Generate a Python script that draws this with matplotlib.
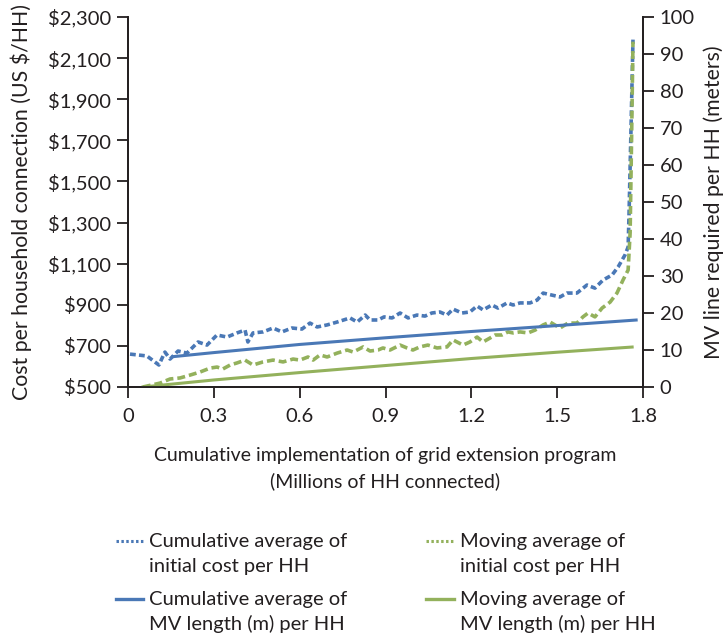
import matplotlib
matplotlib.use("Agg")
import matplotlib.pyplot as plt
from matplotlib.lines import Line2D
from matplotlib.ticker import FuncFormatter

plt.rcParams['font.family'] = ['Lato', 'DejaVu Sans']

# Cumulative average of initial cost per HH (US $/HH), left axis
cum_cost_x = [0.007, 0.066, 0.108, 0.129, 0.147, 0.175, 0.206, 0.245, 0.276, 0.311,
              0.346, 0.381, 0.409, 0.419, 0.437, 0.472, 0.507, 0.538, 0.573, 0.608,
              0.636, 0.661, 0.696, 0.731, 0.776, 0.801, 0.829, 0.846, 0.874, 0.895,
              0.923, 0.951, 0.979, 1.010, 1.038, 1.062, 1.090, 1.115, 1.136, 1.167,
              1.195, 1.220, 1.241, 1.272, 1.293, 1.325, 1.346, 1.370, 1.405, 1.430,
              1.451, 1.482, 1.510, 1.534, 1.569, 1.604, 1.632, 1.660, 1.692, 1.713,
              1.737, 1.748, 1.751, 1.758, 1.765]
cum_cost = [660, 651, 607, 670, 636, 675, 665, 719, 704, 753,
            743, 763, 777, 719, 763, 768, 787, 768, 787, 782,
            811, 792, 802, 816, 836, 816, 850, 826, 826, 841,
            836, 860, 836, 850, 845, 860, 865, 850, 879, 860,
            865, 894, 875, 899, 884, 909, 899, 909, 909, 923,
            957, 947, 938, 957, 957, 996, 981, 1020, 1045, 1084,
            1142, 1181, 1330, 1750, 2190]

# Moving average of initial cost per HH (US $/HH), left axis
mov_cost_x = [0.052, 0.112, 0.147, 0.182, 0.217, 0.252, 0.287, 0.311, 0.332, 0.357,
              0.381, 0.409, 0.437, 0.472, 0.507, 0.542, 0.577, 0.601, 0.629, 0.647,
              0.671, 0.696, 0.731, 0.766, 0.787, 0.822, 0.846, 0.874, 0.891, 0.916,
              0.951, 0.975, 0.996, 1.020, 1.048, 1.080, 1.115, 1.136, 1.171, 1.195,
              1.220, 1.241, 1.265, 1.283, 1.307, 1.328, 1.346, 1.370, 1.398, 1.423,
              1.451, 1.475, 1.510, 1.538, 1.569, 1.590, 1.608, 1.632, 1.657, 1.685,
              1.709, 1.730, 1.748, 1.755, 1.760, 1.765]
mov_cost = [500, 519, 539, 544, 558, 573, 592, 597, 588, 607,
            617, 631, 607, 622, 631, 622, 636, 631, 646, 631,
            656, 646, 665, 680, 670, 695, 675, 680, 690, 680,
            704, 690, 680, 695, 704, 690, 695, 729, 704, 719,
            743, 719, 738, 753, 753, 768, 763, 768, 763, 777,
            802, 816, 787, 811, 811, 841, 860, 841, 884, 913,
            957, 1020, 1069, 1250, 1700, 2180]

# MV line length per HH (meters), right axis
cum_mv_x = [0.157, 0.3, 0.6, 0.9, 1.2, 1.5, 1.776]
cum_mv = [8.2, 9.3, 11.5, 13.3, 15.0, 16.6, 18.1]
mov_mv_x = [0.052, 0.3, 0.6, 0.9, 1.2, 1.5, 1.762]
mov_mv = [0.0, 1.9, 3.9, 5.8, 7.7, 9.4, 10.8]

x_ticks = [0, 0.3, 0.6, 0.9, 1.2, 1.5, 1.8]
cost_ticks = [500, 700, 900, 1100, 1300, 1500, 1700, 1900, 2100, 2300]
mv_ticks = [0, 10, 20, 30, 40, 50, 60, 70, 80, 90, 100]

legend_labels = ["Cumulative average of\ninitial cost per HH",
                 "Moving average of\ninitial cost per HH",
                 "Cumulative average of\nMV length (m) per HH",
                 "Moving average of\nMV length (m) per HH"]

blue = "#4a78b6"
green = "#93b15c"
ink = "#231f20"

W, H = 725, 637
fig = plt.figure(figsize=(W / 100, H / 100), dpi=100)
ax = fig.add_axes([128 / W, 1 - 387 / H, 515 / W, 370 / H])
ax2 = ax.twinx()

ax.plot(cum_cost_x, cum_cost, color=blue, lw=2.6, dashes=(1.6, 0.9))
ax.plot(mov_cost_x, mov_cost, color=green, lw=2.6, dashes=(2.2, 1.1))
ax2.plot(cum_mv_x, cum_mv, color=blue, lw=2.2)
ax2.plot(mov_mv_x, mov_mv, color=green, lw=2.2)

ax.set_xlim(0, 1.8)
ax.set_ylim(500, 2300)
ax2.set_ylim(0, 100)
ax.set_xticks(x_ticks)
ax.set_xticklabels(["0" if t == 0 else f"{t:.1f}" for t in x_ticks])
ax.set_yticks(cost_ticks)
ax.yaxis.set_major_formatter(FuncFormatter(lambda v, p: f"${v:,.0f}"))
ax2.set_yticks(mv_ticks)

for a in (ax, ax2):
    a.spines['top'].set_visible(False)
    for s in a.spines.values():
        s.set_color(ink)
        s.set_linewidth(1.3)
    a.tick_params(colors=ink, labelsize=14.5, length=8, width=1.3, direction='out')
ax.tick_params(axis='x', pad=7)
ax.tick_params(axis='y', pad=4)
ax2.tick_params(axis='y', pad=4)

ax.set_ylabel("Cost per household connection (US $/HH)", fontsize=15.3, color=ink)
ax.yaxis.set_label_coords(-0.186, 0.5)
ax2.set_ylabel("MV line required per HH (meters)", fontsize=15.3, color=ink)
ax2.yaxis.set_label_coords(1.117, 0.5)
ax.set_xlabel("Cumulative implementation of grid extension program\n(Millions of HH connected)",
              fontsize=14, color=ink, linespacing=1.55)
ax.xaxis.set_label_coords(0.5, -0.162)

# legend: two columns, handle on the first line of each entry
col_handle = [(116, 143), (426, 454)]
col_text = [149, 460]
row_base = [547, 605]
styles = [dict(color=blue, lw=2.2, dashes=(0.8, 0.8)),
          dict(color=green, lw=2.2, dashes=(0.8, 0.8)),
          dict(color=blue, lw=2.4),
          dict(color=green, lw=2.4)]
for i, (label, style) in enumerate(zip(legend_labels, styles)):
    row, col = divmod(i, 2)
    yb = row_base[row]
    x0, x1 = col_handle[col]
    fig.add_artist(Line2D([x0 / W, x1 / W], [1 - (yb - 6) / H] * 2,
                          transform=fig.transFigure, **style))
    for k, line in enumerate(label.split("\n")):
        fig.text(col_text[col] / W, 1 - (yb + 25 * k) / H, line, fontsize=14.5,
                 color=ink, va='baseline', ha='left')

fig.savefig("out.png", dpi=100)
